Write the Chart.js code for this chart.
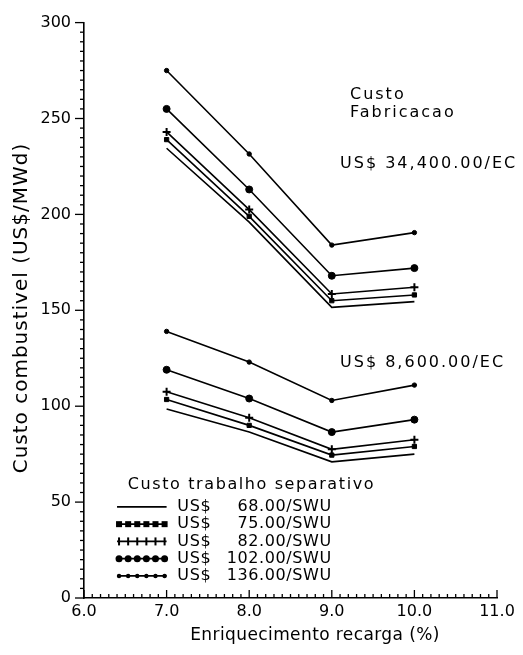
<!DOCTYPE html>
<html>
<head>
<meta charset="utf-8">
<script src="https://cdn.jsdelivr.net/npm/chart.js@4.4.0/dist/chart.umd.min.js"></script>
<style>
  html, body { margin: 0; padding: 0; background: #ffffff; }
  #wrap { width: 523px; height: 655px; position: relative; }
</style>
</head>
<body>
<div id="wrap"><canvas id="fuelChart"></canvas></div>
<script>
/* ── data ── */
const enrichment = [7.0, 8.0, 9.0, 10.0];
const swuLabels  = ['68.00', '75.00', '82.00', '102.00', '136.00'];

// fabrication cost US$ 34,400.00/EC
const high68  = [234.5, 196.0, 151.5, 154.5];
const high75  = [239.0, 199.0, 155.0, 158.0];
const high82  = [243.0, 202.5, 158.5, 162.0];
const high102 = [255.0, 213.0, 168.0, 172.0];
const high136 = [275.0, 231.5, 184.0, 190.5];

// fabrication cost US$ 8,600.00/EC
const low68  = [98.5, 86.5, 71.0, 75.0];
const low75  = [103.5, 90.0, 74.5, 79.0];
const low82  = [107.5, 94.0, 77.5, 82.5];
const low102 = [119.0, 104.0, 86.5, 93.0];
const low136 = [139.0, 123.0, 103.0, 111.0];

const xTicks = [6.0, 7.0, 8.0, 9.0, 10.0, 11.0];
const yTicks = [0, 50, 100, 150, 200, 250, 300];

const xTitle = 'Enriquecimento recarga (%)';
const yTitle = 'Custo combustivel (US$/MWd)';

/* ── styles ── */
const FONT = '"DejaVu Sans", sans-serif';
const INK  = '#000000';
const markers = [
  { style: false,    r: 0 },
  { style: 'rect',   r: 3 },
  { style: 'cross',  r: 4 },
  { style: 'circle', r: 3.5 },
  { style: 'circle', r: 2.2 }
];

function series(values, m) {
  return {
    data: enrichment.map((x, i) => ({ x, y: values[i] })),
    borderColor: INK,
    backgroundColor: INK,
    borderWidth: 1.6,
    pointStyle: m.style || 'circle',
    pointRadius: m.style ? m.r : 0,
    pointBorderWidth: m.style === 'cross' ? 2 : 1,
    tension: 0
  };
}

const highSets = [high68, high75, high82, high102, high136];
const lowSets  = [low68, low75, low82, low102, low136];
const datasets = [
  ...highSets.map((v, i) => series(v, markers[i])),
  ...lowSets.map((v, i) => series(v, markers[i]))
];

/* ── text annotations (data coordinates) ── */
const notes = [
  { text: 'Custo',                     x: 9.22, y: 262.5, spacing: 2 },
  { text: 'Fabricacao',                x: 9.22, y: 253.0, spacing: 2 },
  { text: 'US$ 34,400.00/EC',          x: 9.10, y: 226.5, spacing: 2 },
  { text: 'US$ 8,600.00/EC',           x: 9.10, y: 122.7, spacing: 2 },
  { text: 'Custo trabalho separativo', x: 6.53, y: 58.9,  spacing: 1.6 }
];
const legendPos = { lineFrom: 6.40, lineTo: 7.0, usX: 7.13, amountRight: 9.0, top: 47.5, step: 9 };

function drawMarker(ctx, style, x, y, r) {
  ctx.beginPath();
  if (style === 'rect') {
    ctx.fillRect(x - r, y - r, 2 * r, 2 * r);
  } else if (style === 'cross') {
    ctx.lineWidth = 2;
    ctx.moveTo(x, y - r); ctx.lineTo(x, y + r);
    ctx.stroke();
  } else if (style === 'circle') {
    ctx.arc(x, y, r, 0, Math.PI * 2);
    ctx.fill();
  }
}

/* ── minor ticks ── */
const minorTicks = {
  id: 'minorTicks',
  afterDraw(chart) {
    const { ctx, chartArea, scales } = chart;
    ctx.save();
    ctx.strokeStyle = INK;
    ctx.lineWidth = 1.3;
    for (let v = 0; v <= 300; v += 5) {
      const py = scales.y.getPixelForValue(v);
      const len = v % 50 === 0 ? 9 : 4;
      ctx.beginPath();
      ctx.moveTo(chartArea.left - len, py);
      ctx.lineTo(chartArea.left, py);
      ctx.stroke();
    }
    for (let k = 60; k <= 110; k++) {
      const px = scales.x.getPixelForValue(k / 10);
      const len = k % 10 === 0 ? 8 : 4;
      ctx.beginPath();
      ctx.moveTo(px, chartArea.bottom);
      ctx.lineTo(px, chartArea.bottom - len);
      ctx.stroke();
    }
    ctx.restore();
  }
};

/* ── notes, axis titles, legend ── */
const annotations = {
  id: 'annotations',
  afterDraw(chart) {
    const { ctx, scales } = chart;
    const X = v => scales.x.getPixelForValue(v);
    const Y = v => scales.y.getPixelForValue(v);
    ctx.save();
    ctx.fillStyle = INK;
    ctx.strokeStyle = INK;
    ctx.textBaseline = 'middle';

    // axis titles
    ctx.font = '17px ' + FONT;
    ctx.letterSpacing = '0.4px';
    ctx.textAlign = 'center';
    ctx.fillText(xTitle, 315, 636);
    ctx.save();
    ctx.translate(22, 308);
    ctx.rotate(-Math.PI / 2);
    ctx.font = '20px ' + FONT;
    ctx.letterSpacing = '1px';
    ctx.fillText(yTitle, 0, 0);
    ctx.restore();

    ctx.font = '16px ' + FONT;
    notes.forEach(n => {
      ctx.letterSpacing = n.spacing + 'px';
      ctx.textAlign = 'left';
      ctx.fillText(n.text, X(n.x), Y(n.y));
    });

    ctx.letterSpacing = '0.6px';
    swuLabels.forEach((label, i) => {
      const y = Y(legendPos.top - i * legendPos.step);
      const x0 = X(legendPos.lineFrom), x1 = X(legendPos.lineTo);
      ctx.lineWidth = 1.8;
      ctx.beginPath();
      ctx.moveTo(x0, y); ctx.lineTo(x1, y);
      ctx.stroke();
      const m = markers[i];
      if (m.style) {
        for (let k = 0; k < 6; k++) {
          drawMarker(ctx, m.style, x0 + 2 + k * (x1 - x0 - 4) / 5, y, m.r);
        }
      }
      ctx.textAlign = 'left';
      ctx.fillText('US$', X(legendPos.usX), y);
      ctx.textAlign = 'right';
      ctx.fillText(label + '/SWU', X(legendPos.amountRight), y);
    });
    ctx.restore();
  }
};

/* ── chart ── */
new Chart(document.getElementById('fuelChart'), {
  type: 'line',
  data: { datasets },
  options: {
    responsive: true,
    maintainAspectRatio: false,
    animation: false,
    layout: { padding: { top: 22, right: 26, bottom: 0, left: 0 } },
    plugins: { legend: { display: false }, tooltip: { enabled: false } },
    scales: {
      x: {
        type: 'linear',
        min: 6, max: 11,
        afterBuildTicks: s => { s.ticks = xTicks.map(v => ({ value: v })); },
        afterFit: s => { s.height = 57; },
        grid: { display: false, drawTicks: false },
        border: { display: true, color: INK, width: 1.6 },
        ticks: {
          color: INK, padding: 4,
          font: { family: FONT, size: 16 },
          maxRotation: 0,
          callback: v => Number(v).toFixed(1)
        }
      },
      y: {
        min: 0, max: 300,
        afterBuildTicks: s => { s.ticks = yTicks.map(v => ({ value: v })); },
        afterFit: s => { s.width = 84; },
        grid: { display: false, drawTicks: false },
        border: { display: true, color: INK, width: 1.6 },
        ticks: {
          color: INK, padding: 13,
          font: { family: FONT, size: 16 }
        }
      }
    }
  },
  plugins: [minorTicks, annotations]
});
</script>
</body>
</html>
